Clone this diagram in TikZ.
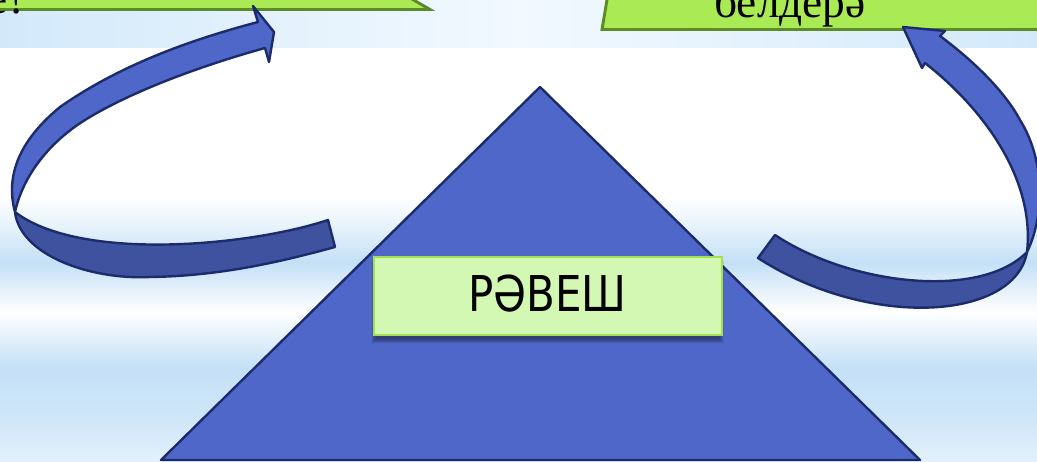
\documentclass[tikz,border=0pt]{standalone}
\usepackage{fontspec}
\setmainfont{Liberation Serif}
\newfontfamily\labelfont{DejaVu Sans}
\usetikzlibrary{shadows.blur}

\definecolor{leafgreen}{HTML}{A9EA55}
\definecolor{leafedge}{HTML}{5B8C25}
\definecolor{palegreen}{HTML}{D3F8B3}
\definecolor{paleedge}{HTML}{A2E24E}
\definecolor{royal}{HTML}{4F67C8}
\definecolor{royaldark}{HTML}{3F529F}
\definecolor{navy}{HTML}{1C2B6C}
\definecolor{skyband}{HTML}{C4E0F7}
\definecolor{skylow}{HTML}{E2F0FB}
\definecolor{skyedge}{HTML}{D3E9FA}
\definecolor{skymid}{HTML}{F2F9FF}

\pgfdeclareverticalshading{stripes}{100bp}{color(0bp)=(skylow); color(25bp)=(skylow);
	color(30bp)=(skyband!60!skylow); color(36.3bp)=(skyband); color(43bp)=(white);
	color(49bp)=(skyband); color(53.5bp)=(skyband!40!white); color(57bp)=(white);
	color(75bp)=(white); color(100bp)=(white)}

\begin{document}
\begin{tikzpicture}[x=0.75pt, y=-0.75pt,
	ribbon/.style={draw=navy, line width=1.8pt, line join=round},
	topbox/.style={draw=leafedge, fill=leafgreen, line width=2.2pt},
	toptext/.style={font=\fontsize{34}{40}\selectfont}]
	\useasboundingbox (0,0) rectangle (1037,461);
	\clip (0,0) rectangle (1037,461);
	% background
	\shade[shading=stripes] (0,47) rectangle (1037,461);
	\shade[left color=skyedge, right color=skyedge, middle color=skymid] (0,0) rectangle (1037,47);
	% boxes at the top
	\draw[topbox] (-10,-30) -- (362,-30) -- (430,9.5) -- (-10,9.5) -- cycle;
	\draw[topbox] (612,-30) -- (1050,-30) -- (1050,29.5) -- (602,29.5) -- cycle;
	\node[toptext, anchor=base east, inner sep=0pt] (ask) at (28,13) {е?};
	\node[toptext, anchor=base, inner sep=0pt] (tell) at (790,17) {белдерә};
	% pyramid
	\draw[fill=royal, draw=navy, line width=1.8pt, line join=round]
	(540,87) -- (920,460) -- (161,460) -- cycle;
	% left arrow
	\draw[ribbon, fill=royaldark] (328,220) .. controls (250,246) and (80,262) .. (15,212)
	.. controls (20,255) and (90,280) .. (150,277)
	.. controls (220,276) and (280,262) .. (335,247) -- cycle;
	\draw[ribbon, fill=royal] (15,212) .. controls (5,175) and (20,140) .. (60,107)
	.. controls (120,65) and (190,40) .. (258,22)
	-- (253,6) -- (274,32) -- (269,62) -- (265,48)
	.. controls (200,66) and (130,92) .. (85,120)
	.. controls (45,145) and (22,180) .. (15,212) -- cycle;
	% right arrow
	\draw[ribbon, fill=royaldark] (775,235) .. controls (850,285) and (980,300) .. (1027,252)
	.. controls (1015,320) and (870,330) .. (758,258) -- cycle;
	\draw[ribbon, fill=royal] (1027,252) .. controls (1045,215) and (1045,160) .. (1020,120)
	.. controls (1005,92) and (975,62) .. (940,36)
	-- (945,31) -- (903,27) -- (922,68) -- (925,63)
	.. controls (985,110) and (1035,180) .. (1027,252) -- cycle;
	% label
	\node[draw=paleedge, fill=palegreen, line width=1.5pt, minimum width=261pt, minimum height=58pt,
	text depth=4.5pt, font=\labelfont\fontsize{37}{44}\selectfont,
	blur shadow={shadow xshift=0pt, shadow yshift=-5pt, shadow opacity=40, shadow blur steps=6}]
	(adverb) at (547.5,296) {\scalebox{0.85}[1]{РӘВЕШ}};
\end{tikzpicture}
\end{document}
